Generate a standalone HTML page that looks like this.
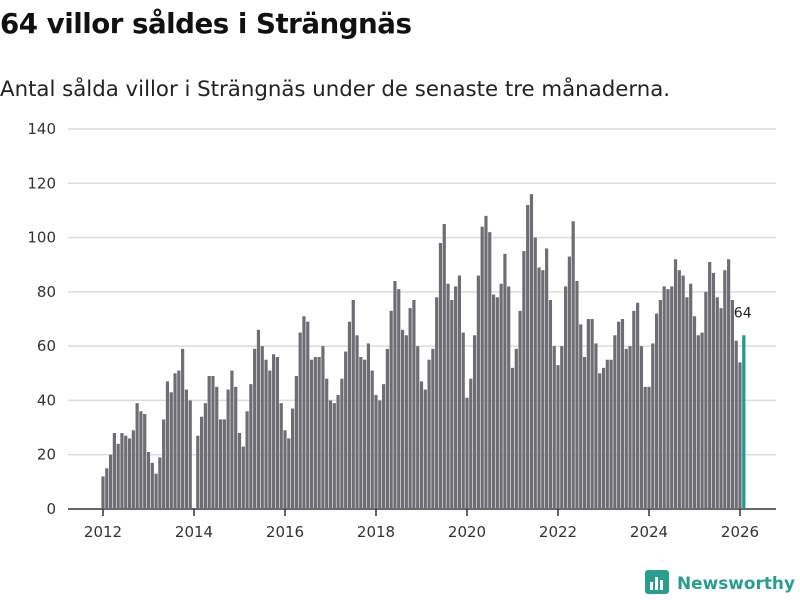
<!DOCTYPE html>
<html><head><meta charset="utf-8">
<style>
body{margin:0;background:#fff;font-family:"Liberation Sans","DejaVu Sans",sans-serif;}
#wrap{position:relative;width:800px;height:600px;overflow:hidden;}
h1{position:absolute;left:0;top:7px;margin:0;font-size:27.7px;font-weight:bold;color:#111;font-family:"DejaVu Sans",sans-serif;letter-spacing:-0.5px}
p{position:absolute;left:0;top:77px;margin:0;font-size:21.3px;color:#222;font-family:"DejaVu Sans",sans-serif}
</style></head><body>
<div id="wrap">
<h1>64 villor såldes i Strängnäs</h1>
<p>Antal sålda villor i Strängnäs under de senaste tre månaderna.</p>
<svg id="chart" width="800" height="600" style="position:absolute;left:0;top:0"></svg>
</div>
<script>
const years=[2012,2013,2014,2015,2016,2017,2018,2019,2020,2021,2022,2023,2024,2025,2026];
const values=[
12,15,20,28,24,28,27,26,29,39,36,35,
21,17,13,19,33,47,43,50,51,59,44,40,
0,27,34,39,49,49,45,33,33,44,51,45,
28,23,36,46,59,66,60,55,51,57,56,39,
29,26,37,49,65,71,69,55,56,56,60,48,
40,39,42,48,58,69,77,64,56,55,61,51,
42,40,46,59,73,84,81,66,64,74,77,60,
47,44,55,59,78,98,105,83,77,82,86,65,
41,48,64,86,104,108,102,79,78,83,94,82,
52,59,73,95,112,116,100,89,88,96,77,60,
53,60,82,93,106,84,68,56,70,70,61,50,
52,55,55,64,69,70,59,60,73,76,60,45,
45,61,72,77,82,81,82,92,88,86,78,83,
71,64,65,80,91,87,78,74,88,92,77,62,
54,64];
const yTicks=[0,20,40,60,80,100,120,140];
const xTickYears=[2012,2014,2016,2018,2020,2022,2024,2026];
const svg=document.getElementById('chart');
const NS='http://www.w3.org/2000/svg';
const y=v=>509-v*(380/140);
const x=i=>103+i*(45.5/12);
function mk(t,a){const e=document.createElementNS(NS,t);for(const k in a)e.setAttribute(k,a[k]);svg.appendChild(e);return e;}
yTicks.forEach(v=>{
  const g=mk('line',{x1:68,x2:776,y1:y(v),y2:y(v),stroke:v===0?'#333':'#dcdcdc','stroke-width':1.5});
  
  
  const t=mk('text',{x:56,y:y(v)+5,'text-anchor':'end','font-size':15,fill:'#333','font-family':'DejaVu Sans, sans-serif'});
  t.textContent=v;
  
  
});
values.forEach((v,i)=>{
  const last=i===values.length-1;
  const r=mk('rect',{x:x(i)-1.6,y:y(v),width:3.2,height:509-y(v),fill:last?'#1a9a93':'#6e6d73'});
  
  
});
const li=values.length-1;
const lab=mk('text',{x:x(li)-10,y:y(values[li])-18,'font-size':14,fill:'#222','font-family':'DejaVu Sans, sans-serif'});
lab.textContent=values[li];


xTickYears.forEach(yr=>{
  const i=(yr-2012)*12;
  const l=mk('line',{x1:x(i),x2:x(i),y1:509,y2:516,stroke:'#333','stroke-width':1.5});
  
  
  const t=mk('text',{x:x(i),y:537,'text-anchor':'middle','font-size':15,fill:'#333','font-family':'DejaVu Sans, sans-serif'});
  t.textContent=yr;
  
  
});
const lg=document.createElementNS(NS,'g');


svg.appendChild(lg);
lg.innerHTML='<rect x="645" y="570" width="24" height="24" rx="3" fill="#2a9d8f"/><rect x="650" y="582" width="3" height="8" fill="#fff"/><rect x="655" y="577" width="3" height="13" fill="#fff"/><rect x="660" y="580" width="3" height="10" fill="#fff"/><text x="677" y="589" font-size="17" font-weight="bold" fill="#2a9d8f" font-family="DejaVu Sans, sans-serif" textLength="118" lengthAdjust="spacingAndGlyphs">Newsworthy</text>';
</script>
</body></html>
